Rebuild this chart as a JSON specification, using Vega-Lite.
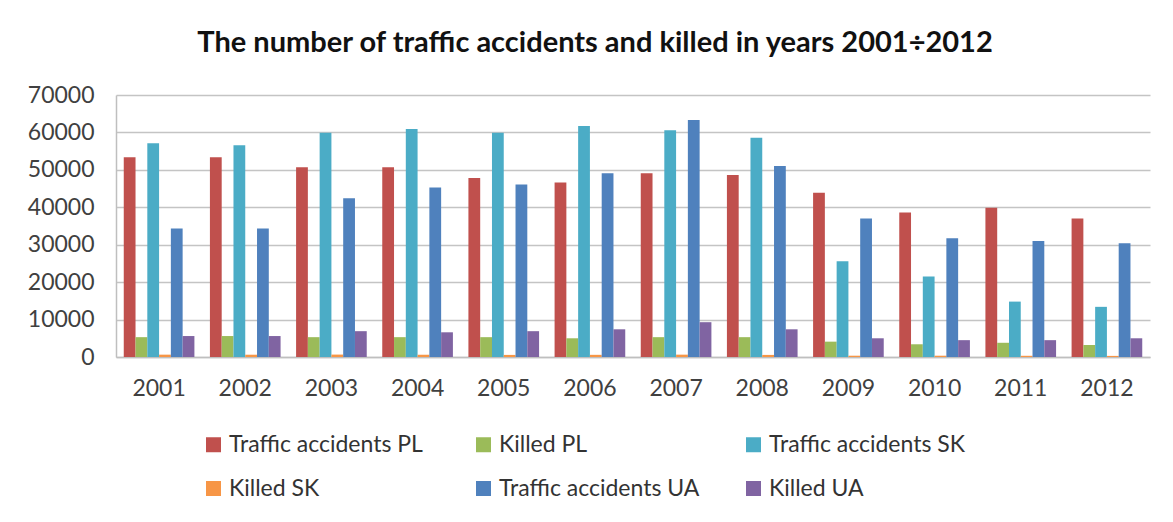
{
  "$schema": "https://vega.github.io/schema/vega-lite/v6.json",
  "width": 1034,
  "height": 262,
  "autosize": "none",
  "padding": {"left": 116, "top": 95, "right": 23, "bottom": 165},
  "background": "white",
  "title": {
    "text": "The number of traffic accidents and killed in years 2001÷2012",
    "font": "Lato",
    "fontSize": 29,
    "fontWeight": "bold",
    "color": "#111111",
    "anchor": "middle",
    "dx": -38,
    "offset": 26
  },
  "datasets": {
    "d": [
      {"year": "2001", "series": "Traffic accidents PL", "value": 53400},
      {"year": "2001", "series": "Killed PL", "value": 5300},
      {"year": "2001", "series": "Traffic accidents SK", "value": 57100},
      {"year": "2001", "series": "Killed SK", "value": 625},
      {"year": "2001", "series": "Traffic accidents UA", "value": 34300},
      {"year": "2001", "series": "Killed UA", "value": 5600},
      {"year": "2002", "series": "Traffic accidents PL", "value": 53400},
      {"year": "2002", "series": "Killed PL", "value": 5600},
      {"year": "2002", "series": "Traffic accidents SK", "value": 56600},
      {"year": "2002", "series": "Killed SK", "value": 610},
      {"year": "2002", "series": "Traffic accidents UA", "value": 34300},
      {"year": "2002", "series": "Killed UA", "value": 5600},
      {"year": "2003", "series": "Traffic accidents PL", "value": 50700},
      {"year": "2003", "series": "Killed PL", "value": 5300},
      {"year": "2003", "series": "Traffic accidents SK", "value": 59900},
      {"year": "2003", "series": "Killed SK", "value": 645},
      {"year": "2003", "series": "Traffic accidents UA", "value": 42400},
      {"year": "2003", "series": "Killed UA", "value": 6900},
      {"year": "2004", "series": "Traffic accidents PL", "value": 50700},
      {"year": "2004", "series": "Killed PL", "value": 5300},
      {"year": "2004", "series": "Traffic accidents SK", "value": 60900},
      {"year": "2004", "series": "Killed SK", "value": 603},
      {"year": "2004", "series": "Traffic accidents UA", "value": 45300},
      {"year": "2004", "series": "Killed UA", "value": 6600},
      {"year": "2005", "series": "Traffic accidents PL", "value": 47800},
      {"year": "2005", "series": "Killed PL", "value": 5300},
      {"year": "2005", "series": "Traffic accidents SK", "value": 59900},
      {"year": "2005", "series": "Killed SK", "value": 560},
      {"year": "2005", "series": "Traffic accidents UA", "value": 46100},
      {"year": "2005", "series": "Killed UA", "value": 6900},
      {"year": "2006", "series": "Traffic accidents PL", "value": 46600},
      {"year": "2006", "series": "Killed PL", "value": 5000},
      {"year": "2006", "series": "Traffic accidents SK", "value": 61700},
      {"year": "2006", "series": "Killed SK", "value": 579},
      {"year": "2006", "series": "Traffic accidents UA", "value": 49100},
      {"year": "2006", "series": "Killed UA", "value": 7400},
      {"year": "2007", "series": "Traffic accidents PL", "value": 49100},
      {"year": "2007", "series": "Killed PL", "value": 5300},
      {"year": "2007", "series": "Traffic accidents SK", "value": 60600},
      {"year": "2007", "series": "Killed SK", "value": 627},
      {"year": "2007", "series": "Traffic accidents UA", "value": 63300},
      {"year": "2007", "series": "Killed UA", "value": 9300},
      {"year": "2008", "series": "Traffic accidents PL", "value": 48600},
      {"year": "2008", "series": "Killed PL", "value": 5300},
      {"year": "2008", "series": "Traffic accidents SK", "value": 58600},
      {"year": "2008", "series": "Killed SK", "value": 558},
      {"year": "2008", "series": "Traffic accidents UA", "value": 51000},
      {"year": "2008", "series": "Killed UA", "value": 7400},
      {"year": "2009", "series": "Traffic accidents PL", "value": 43900},
      {"year": "2009", "series": "Killed PL", "value": 4100},
      {"year": "2009", "series": "Traffic accidents SK", "value": 25600},
      {"year": "2009", "series": "Killed SK", "value": 347},
      {"year": "2009", "series": "Traffic accidents UA", "value": 37000},
      {"year": "2009", "series": "Killed UA", "value": 5000},
      {"year": "2010", "series": "Traffic accidents PL", "value": 38600},
      {"year": "2010", "series": "Killed PL", "value": 3400},
      {"year": "2010", "series": "Traffic accidents SK", "value": 21500},
      {"year": "2010", "series": "Killed SK", "value": 345},
      {"year": "2010", "series": "Traffic accidents UA", "value": 31700},
      {"year": "2010", "series": "Killed UA", "value": 4500},
      {"year": "2011", "series": "Traffic accidents PL", "value": 39900},
      {"year": "2011", "series": "Killed PL", "value": 3800},
      {"year": "2011", "series": "Traffic accidents SK", "value": 14800},
      {"year": "2011", "series": "Killed SK", "value": 324},
      {"year": "2011", "series": "Traffic accidents UA", "value": 31000},
      {"year": "2011", "series": "Killed UA", "value": 4500},
      {"year": "2012", "series": "Traffic accidents PL", "value": 37000},
      {"year": "2012", "series": "Killed PL", "value": 3200},
      {"year": "2012", "series": "Traffic accidents SK", "value": 13400},
      {"year": "2012", "series": "Killed SK", "value": 296},
      {"year": "2012", "series": "Traffic accidents UA", "value": 30400},
      {"year": "2012", "series": "Killed UA", "value": 5000}
    ]
  },
  "data": {"name": "d"},
  "mark": {"type": "bar"},
  "encoding": {
    "x": {
      "field": "year",
      "type": "nominal",
      "scale": {"paddingInner": 0.18, "paddingOuter": 0.09},
      "axis": {
        "title": null,
        "labelAngle": 0,
        "labelFont": "Lato",
        "labelFontSize": 23,
        "labelColor": "#404040",
        "labelPadding": 20,
        "ticks": false,
        "domainColor": "#bfbfbf",
        "domainWidth": 1.5
      }
    },
    "xOffset": {
      "field": "series",
      "type": "nominal",
      "sort": ["Traffic accidents PL", "Killed PL", "Traffic accidents SK", "Killed SK", "Traffic accidents UA", "Killed UA"],
      "scale": {"paddingInner": 0, "paddingOuter": 0}
    },
    "y": {
      "field": "value",
      "type": "quantitative",
      "scale": {"domain": [0, 70000], "nice": false},
      "axis": {
        "title": null,
        "values": [0, 10000, 20000, 30000, 40000, 50000, 60000, 70000],
        "format": "d",
        "labelFont": "Lato",
        "labelFontSize": 23,
        "labelColor": "#404040",
        "labelPadding": 22,
        "ticks": false,
        "domainColor": "#bfbfbf",
        "domainWidth": 1.5,
        "grid": true,
        "gridColor": "#c4c4c4",
        "gridWidth": 1.5
      }
    },
    "color": {
      "field": "series",
      "type": "nominal",
      "scale": {
        "domain": ["Traffic accidents PL", "Killed PL", "Traffic accidents SK", "Killed SK", "Traffic accidents UA", "Killed UA"],
        "range": ["#C0504D", "#9BBB59", "#4BACC6", "#F79646", "#4F81BD", "#8064A2"]
      },
      "legend": {
        "title": null,
        "orient": "none",
        "legendX": 86,
        "legendY": 338,
        "direction": "horizontal",
        "columns": 3,
        "gridAlign": "all",
        "columnPadding": 42,
        "rowPadding": 20,
        "symbolType": "square",
        "symbolSize": 225,
        "symbolStrokeWidth": 0,
        "symbolOpacity": 1,
        "labelFont": "Lato",
        "labelFontSize": 23,
        "labelColor": "#333333",
        "labelOffset": 4,
        "labelLimit": 300
      }
    }
  },
  "config": {
    "view": {"stroke": null},
    "axis": {"gridDash": []}
  }
}
